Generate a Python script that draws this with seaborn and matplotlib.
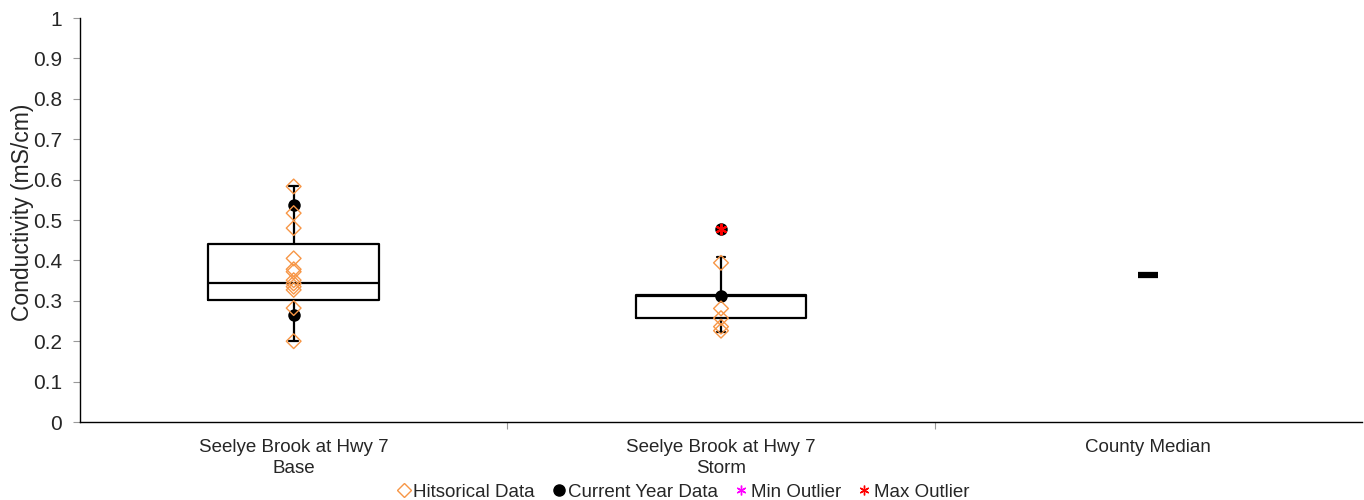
import matplotlib
matplotlib.use('Agg')
import matplotlib.pyplot as plt
import pandas as pd
import seaborn as sns
from matplotlib.lines import Line2D

# categories and values
sites = ['Seelye Brook at Hwy 7\nBase', 'Seelye Brook at Hwy 7\nStorm', 'County Median']

hist_base = [0.583, 0.517, 0.48, 0.405, 0.378, 0.372, 0.351, 0.343, 0.335, 0.327, 0.282, 0.2]
hist_storm = [0.394, 0.281, 0.257, 0.236, 0.226]
current_base = [0.537, 0.265]
current_storm = [0.313]
max_outlier_storm = [0.477]
county_median = 0.363

# box stats: whislo, q1, med, q3, whishi
box_base = [0.2, 0.302, 0.344, 0.441, 0.583]
box_storm = [0.224, 0.257, 0.313, 0.314, 0.408]

sns.set_style('white')
plt.rcParams['font.family'] = ['Liberation Sans', 'DejaVu Sans']

hist = pd.DataFrame({'site': [sites[0]] * len(hist_base) + [sites[1]] * len(hist_storm),
                     'value': hist_base + hist_storm})
cur = pd.DataFrame({'site': [sites[0]] * len(current_base) + [sites[1]] * len(current_storm),
                    'value': current_base + current_storm})
outl = pd.DataFrame({'site': [sites[1]], 'value': max_outlier_storm})
med = pd.DataFrame({'site': [sites[2]], 'value': [county_median]})

fig, ax = plt.subplots(figsize=(13.64, 5), dpi=100)
fig.subplots_adjust(left=80 / 1364, right=1362 / 1364, top=1 - 18 / 500, bottom=1 - 422 / 500)

stats = []
for s, lab in zip([box_base, box_storm], sites[:2]):
    stats.append(dict(whislo=s[0], q1=s[1], med=s[2], q3=s[3], whishi=s[4], label=lab))
ax.bxp(stats, positions=[0, 1], widths=0.4, showfliers=False,
       boxprops=dict(color='black', linewidth=1.6),
       medianprops=dict(color='black', linewidth=1.6),
       whiskerprops=dict(color='black', linewidth=1.6),
       capprops=dict(color='black', linewidth=1.6), capwidths=0.02)

order = sites
sns.stripplot(data=cur, x='site', y='value', order=order, jitter=False, ax=ax,
              color='black', marker='o', size=9, zorder=4)
sns.stripplot(data=hist, x='site', y='value', order=order, jitter=False, ax=ax,
              color='none', marker='D', size=7.5, edgecolor='#f79646', linewidth=1.0, zorder=5)
sns.stripplot(data=outl, x='site', y='value', order=order, jitter=False, ax=ax,
              color='black', marker='o', size=9, zorder=4)
sns.stripplot(data=outl, x='site', y='value', order=order, jitter=False, ax=ax,
              color='red', marker=(6, 2, 0), size=7, linewidth=1.5, zorder=6)
sns.stripplot(data=med, x='site', y='value', order=order, jitter=False, ax=ax,
              color='black', marker='_', size=14, linewidth=4.5, zorder=6)

ax.set_xlim(-0.5, 2.5)
ax.set_ylim(0, 1)
ax.set_yticks([i / 10 for i in range(11)])
ax.set_yticklabels(['0'] + [f'{i / 10:g}' for i in range(1, 11)], fontsize=15)
ax.set_xticks([0.5, 1.5])
ax.set_xticklabels([])
ax.set_xticks([0, 1, 2], minor=True)
ax.set_xticklabels(sites, minor=True, fontsize=13.5, linespacing=1.35)
ax.tick_params(axis='x', which='minor', length=0, pad=12)
ax.tick_params(axis='x', which='major', length=5, direction='out', color='#999999', bottom=True)
ax.tick_params(axis='y', length=5, direction='out', color='#999999', left=True, pad=8)
ax.set_xlabel('')
ax.set_ylabel('Conductivity (mS/cm)', fontsize=16.5, labelpad=-1)
ax.yaxis.label.set_y(0.52)
for side in ['top', 'right']:
    ax.spines[side].set_visible(False)
for side in ['left', 'bottom']:
    ax.spines[side].set_color('black')
    ax.spines[side].set_linewidth(1)

handles = [
    Line2D([], [], linestyle='none', marker='D', markerfacecolor='none', markeredgecolor='#f79646', markersize=7),
    Line2D([], [], linestyle='none', marker='o', color='black', markersize=8),
    Line2D([], [], linestyle='none', marker=(6, 2, 0), color='magenta', markersize=7),
    Line2D([], [], linestyle='none', marker=(6, 2, 0), color='red', markersize=7),
]
labels = ['Hitsorical Data', 'Current Year Data', 'Min Outlier', 'Max Outlier']
fig.legend(handles, labels, loc='lower center', ncol=4, frameon=False, fontsize=13.5,
           bbox_to_anchor=(0.5, -0.035), handletextpad=0.0, columnspacing=0.75, handlelength=1.0)

fig.savefig('out.png', dpi=100)
